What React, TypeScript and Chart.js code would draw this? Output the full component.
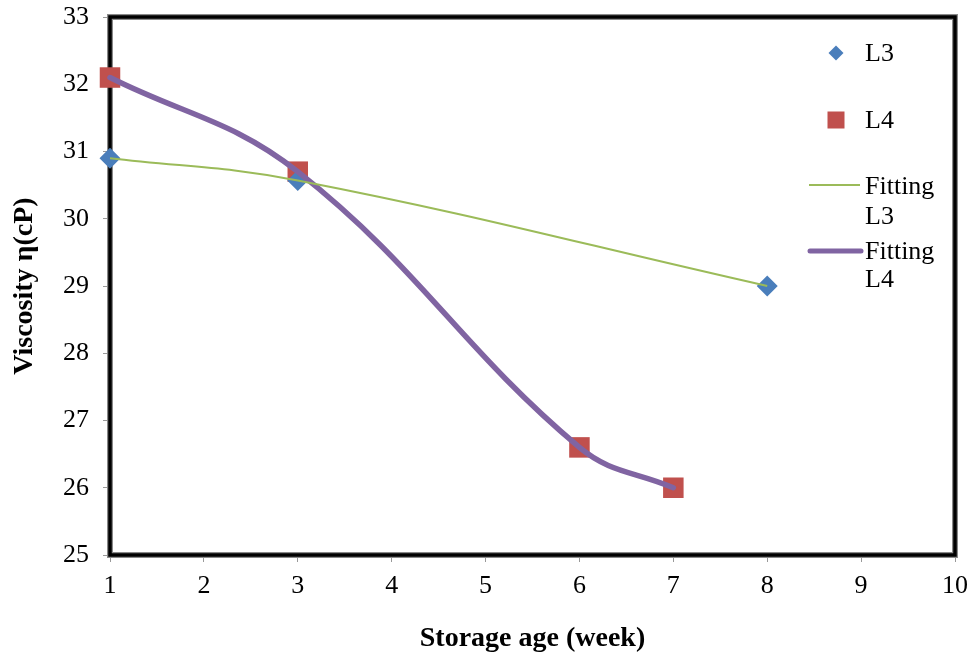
import React, { useEffect, useRef } from 'react';
import { Chart, registerables } from 'chart.js';

Chart.register(...registerables);

// ---- data ----
const weeksL3 = [1, 3, 8];
const viscosityL3 = [30.9, 30.57, 29.0];
const weeksL4 = [1, 3, 6, 7];
const viscosityL4 = [32.1, 30.7, 26.6, 26.0];
const xRange = [1, 10];
const yRange = [25, 33];
const legendNames = ['L3', 'L4', 'Fitting', 'L3', 'Fitting', 'L4'];

const BLUE = '#4A7EBB';
const RED = '#C0504D';
const GREEN = '#9BBB59';
const PURPLE = '#8064A2';
const FONT = "'Liberation Serif', 'DejaVu Serif', serif";

const toPoints = (xs: number[], ys: number[]) => xs.map((x, i) => ({ x, y: ys[i] }));

const frameAndLegend = {
  id: 'frameAndLegend',
  beforeDatasetsDraw(chart: any) {
    const { ctx, chartArea: a } = chart;
    ctx.save();
    ctx.strokeStyle = '#8a8a8a';
    ctx.lineWidth = 6;
    ctx.strokeRect(a.left, a.top, a.right - a.left, a.bottom - a.top);
    ctx.strokeStyle = '#000';
    ctx.lineWidth = 3.5;
    ctx.strokeRect(a.left, a.top, a.right - a.left, a.bottom - a.top);
    ctx.restore();
  },
  afterDraw(chart: any) {
    const { ctx, chartArea: a } = chart;
    const mx = a.right - 119;
    const tx = a.right - 90;
    ctx.save();
    ctx.font = `26px ${FONT}`;
    ctx.fillStyle = '#000';
    ctx.textBaseline = 'middle';
    ctx.textAlign = 'left';
    // L3 diamond
    const y1 = a.top + 36;
    ctx.fillStyle = BLUE;
    ctx.beginPath();
    ctx.moveTo(mx, y1 - 7.5);
    ctx.lineTo(mx + 7.5, y1);
    ctx.lineTo(mx, y1 + 7.5);
    ctx.lineTo(mx - 7.5, y1);
    ctx.closePath();
    ctx.fill();
    ctx.fillStyle = '#000';
    ctx.fillText(legendNames[0], tx, y1 + 1);
    // L4 square
    const y2 = a.top + 103;
    ctx.fillStyle = RED;
    ctx.fillRect(mx - 8.5, y2 - 8.5, 17, 17);
    ctx.fillStyle = '#000';
    ctx.fillText(legendNames[1], tx, y2 + 1);
    // Fitting L3
    const y3 = a.top + 168;
    ctx.strokeStyle = GREEN;
    ctx.lineWidth = 2;
    ctx.beginPath();
    ctx.moveTo(mx - 27, y3);
    ctx.lineTo(mx + 24, y3);
    ctx.stroke();
    ctx.fillText(legendNames[2], tx, y3 + 2);
    ctx.fillText(legendNames[3], tx, y3 + 32);
    // Fitting L4
    const y4 = a.top + 234;
    ctx.strokeStyle = PURPLE;
    ctx.lineWidth = 5;
    ctx.lineCap = 'round';
    ctx.beginPath();
    ctx.moveTo(mx - 26, y4);
    ctx.lineTo(mx + 25, y4);
    ctx.stroke();
    ctx.fillText(legendNames[4], tx, y4 + 1);
    ctx.fillText(legendNames[5], tx, y4 + 29);
    ctx.restore();
  },
};

export default function App() {
  const ref = useRef<HTMLCanvasElement>(null);
  useEffect(() => {
    document.body.style.margin = '0';
    const canvas = ref.current!;
    const chart = new Chart(canvas, {
      type: 'scatter',
      data: {
        datasets: [
          {
            type: 'line',
            label: 'Fitting L3',
            data: toPoints(weeksL3, viscosityL3),
            borderColor: GREEN,
            borderWidth: 2,
            pointRadius: 0,
            tension: 0.4,
            fill: false,
            clip: false as any,
          },
          {
            type: 'line',
            label: 'Fitting L4',
            data: toPoints(weeksL4, viscosityL4),
            borderColor: PURPLE,
            borderWidth: 5.5,
            pointRadius: 0,
            tension: 0.4,
            fill: false,
            borderCapStyle: 'round',
            clip: false as any,
          },
          {
            label: 'L3',
            data: toPoints(weeksL3, viscosityL3),
            pointStyle: 'rectRot',
            pointRadius: 10.5,
            backgroundColor: BLUE,
            borderColor: BLUE,
            borderWidth: 0,
            clip: false as any,
          },
          {
            label: 'L4',
            data: toPoints(weeksL4, viscosityL4),
            pointStyle: 'rect',
            pointRadius: 14.5,
            backgroundColor: RED,
            borderColor: RED,
            borderWidth: 0,
            clip: false as any,
          },
        ],
      },
      options: {
        responsive: false,
        animation: false,
        layout: { padding: { left: 0, right: 18, top: 17, bottom: 0 } },
        plugins: { legend: { display: false }, tooltip: { enabled: false } },
        scales: {
          x: {
            type: 'linear',
            min: xRange[0],
            max: xRange[1],
            afterFit: (s: any) => {
              s.height = 102;
              s.paddingLeft = 0;
              s.paddingRight = 0;
            },
            border: { display: false },
            grid: { display: true, drawOnChartArea: false, drawTicks: true, tickLength: 7, color: '#999' },
            ticks: { stepSize: 1, color: '#000', padding: 9, font: { family: FONT, size: 26 } },
            title: {
              display: true,
              text: 'Storage age (week)',
              color: '#000',
              font: { family: FONT, size: 28, weight: 'bold' },
              padding: { top: 0, bottom: 1 },
            },
          },
          y: {
            type: 'linear',
            min: yRange[0],
            max: yRange[1],
            afterFit: (s: any) => {
              s.width = 110;
              s.paddingTop = 0;
              s.paddingBottom = 0;
            },
            border: { display: false },
            grid: { display: true, drawOnChartArea: false, drawTicks: true, tickLength: 7, color: '#999' },
            ticks: { stepSize: 1, color: '#000', padding: 14, font: { family: FONT, size: 26 } },
            title: {
              display: true,
              text: 'Viscosity η(cP)',
              color: '#000',
              font: { family: FONT, size: 28, weight: 'bold' },
              padding: { top: 8, bottom: 0 },
            },
          },
        },
      },
      plugins: [frameAndLegend],
    });
    return () => chart.destroy();
  }, []);
  return <canvas ref={ref} width={973} height={657} style={{ display: 'block' }} />;
}
